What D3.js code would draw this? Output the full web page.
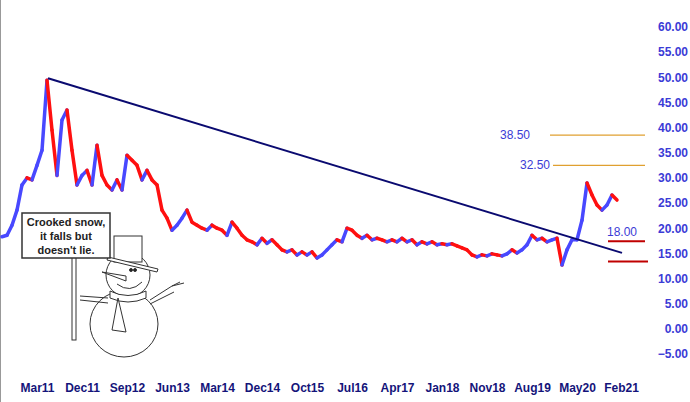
<!DOCTYPE html>
<html><head><meta charset="utf-8">
<script src="https://cdn.jsdelivr.net/npm/d3@7"></script>
<style>body{margin:0;background:#fff}svg{display:block}</style>
</head><body>
<svg id="chart" width="690" height="402"></svg>
<script>
// monthly closes, Aug 2010 .. Jan 2021
var values = [18.3,18.6,20.6,23.6,28.6,30,29.6,32.5,35.5,49.4,39.5,30.5,41.5,43.5,35.5,28.6,30.5,31.5,28.6,36.5,
  30.5,28.6,27.6,29.6,27.6,34.5,33.5,32.5,29.6,31.5,29.6,28.6,23.6,22,19.6,20.6,22,23.6,21.2,20.6,
  20,19.6,20.6,20,19.6,18.6,21.2,20,18.6,17.7,17.3,16.7,18,17,17.7,16.7,15.7,15.3,15.7,14.7,
  15.3,14.7,15.3,14.1,14.7,15.7,16.7,17.7,17.3,20,19.6,18.6,18,18.6,17.7,18,17.7,17.3,17.7,17.3,
  18,17.3,17.7,16.7,17.3,16.9,17.3,16.7,16.9,16.7,16.9,16.5,16.1,15.7,14.7,14.3,14.7,14.5,14.9,14.7,
  14.5,14.9,15.7,15.1,15.7,16.7,18.6,17.7,18,17.3,17.7,18,12.7,15.7,17.7,17.7,21.6,29,26.6,24.6,
  23.6,24.6,26.6,25.6];
var xLabels = ["Mar11","Dec11","Sep12","Jun13","Mar14","Dec14","Oct15","Jul16","Apr17","Jan18","Nov18","Aug19","May20","Feb21"];
var xLabelIdx = [7,16,25,34,43,52,61,70,79,88,97,106,115,123.8];
var yTicks = [60,55,50,45,40,35,30,25,20,15,10,5,0,-5];
var trend = [{i:9.2,v:49.8},{i:124,v:15.1}];
var levels = [{v:38.5,x0:550,x1:645,c:"#e0a030",label:"38.50",lx:530},
              {v:32.5,x0:553,x1:645,c:"#e0a030",label:"32.50",lx:550},
              {v:17.4,x0:608,x1:645,c:"#c00000",label:"18.00",lx:637,dy:-9},
              {v:13.4,x0:608,x1:648,c:"#c00000"}];

var svg = d3.select("#chart");
var x = d3.scaleLinear().domain([0,123]).range([2,617]);
var y = d3.scaleLinear().domain([-5,60]).range([354,27]);

svg.append("line").attr("x1",0.5).attr("x2",0.5).attr("y1",0).attr("y2",402).attr("stroke","#999");

// right axis
var yAxis = d3.axisRight(y).tickValues(yTicks).tickSize(0).tickFormat(d3.format(".2f"));
var ya = svg.append("g").attr("transform","translate(688,0)").call(yAxis);
ya.select(".domain").remove();
ya.selectAll("text").attr("x",0).attr("text-anchor","end").attr("fill","#3b3bd6")
  .style("font","bold 12px Arial, 'Liberation Sans', sans-serif");

// bottom labels
var xa = d3.axisBottom(x).tickValues(xLabelIdx).tickSize(0).tickFormat(function(d,i){return xLabels[i];});
var xg = svg.append("g").attr("transform","translate(0,380)").call(xa);
xg.select(".domain").remove();
xg.selectAll("text").attr("fill","#14147a").style("font","bold 12px Arial, 'Liberation Sans', sans-serif");

// price segments
for (var i = 1; i < values.length; ++i) {
  svg.append("line")
    .attr("x1",x(i-1)).attr("y1",y(values[i-1])).attr("x2",x(i)).attr("y2",y(values[i]))
    .attr("stroke", values[i] < values[i-1] ? "#ff1010" : "#4848ff")
    .attr("stroke-width",3.5).attr("stroke-linecap","round");
}

// trend line
svg.append("line").attr("x1",x(trend[0].i)).attr("y1",y(trend[0].v))
  .attr("x2",x(trend[1].i)).attr("y2",y(trend[1].v)).attr("stroke","#0a0a70").attr("stroke-width",2);

levels.forEach(function(l){
  svg.append("line").attr("x1",l.x0).attr("x2",l.x1).attr("y1",y(l.v)).attr("y2",y(l.v))
    .attr("stroke",l.c).attr("stroke-width",l.c=="#c00000"?2:1.2);
  if (l.label) svg.append("text").attr("x",l.lx).attr("y",y(l.v)+(l.dy||0)+4).attr("text-anchor","end")
    .attr("fill","#3b3bd6").style("font","12px Arial, 'Liberation Sans', sans-serif").text(l.label);
});

// snowman with sign
var g = svg.append("g").attr("stroke","#333").attr("fill","#fff").attr("stroke-width",1);
g.append("rect").attr("x",72).attr("y",256).attr("width",4).attr("height",84);
g.append("ellipse").attr("cx",124).attr("cy",324).attr("rx",34).attr("ry",33);
g.append("circle").attr("cx",128).attr("cy",275).attr("r",22);
g.append("path").attr("d","M110 291 Q128 300 146 291 L146 298 Q128 306 110 298 Z");
g.append("path").attr("d","M118 298 L112 330 L126 332 Z");
g.append("path").attr("d","M150 300 L172 286 L180 282 M172 286 L184 283 M150 304 L174 292");
g.append("path").attr("d","M108 298 L80 296 M108 303 L80 300").attr("fill","none");
g.append("rect").attr("x",114).attr("y",236).attr("width",28).attr("height",26);
g.append("path").attr("d","M108 257 L158 269 L157 272 L107 260 Z");
g.append("path").attr("d","M102 272 L126 276 L126 281 Z");
g.append("path").attr("d","M117 284 Q130 294 142 282").attr("fill","none");
g.append("circle").attr("cx",131).attr("cy",270).attr("r",1.5).attr("fill","#222");
g.append("circle").attr("cx",135).attr("cy",270).attr("r",1.5).attr("fill","#222");
g.append("rect").attr("x",22).attr("y",213).attr("width",88).attr("height",45).attr("stroke-width",1.5);
var signLines = ["Crooked snow,","it falls but","doesn't lie."];
signLines.forEach(function(t,i){
  svg.append("text").attr("x",66).attr("y",226+i*14).attr("text-anchor","middle").attr("fill","#222")
    .style("font","bold 11px Arial, 'Liberation Sans', sans-serif").text(t);
});
</script>
</body></html>
